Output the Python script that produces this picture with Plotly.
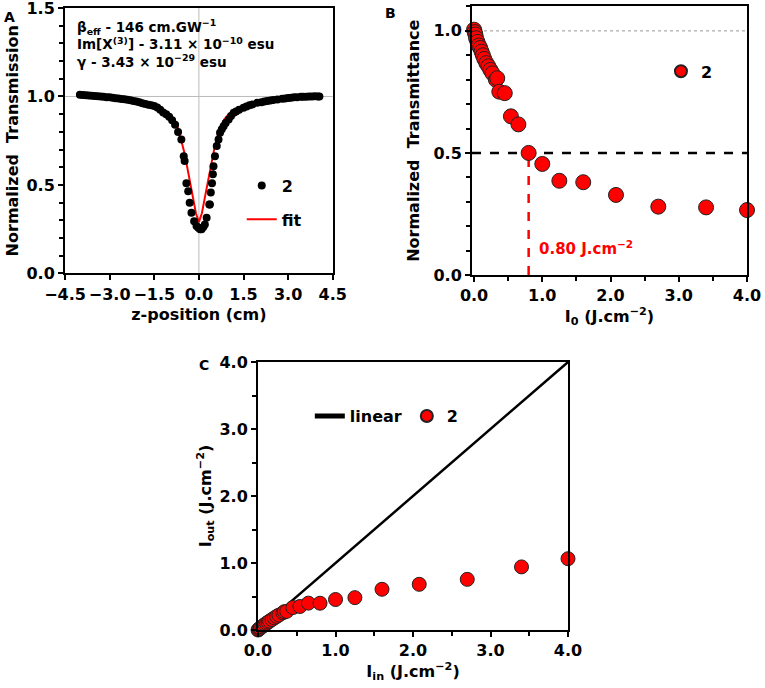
import plotly.graph_objects as go

# Panel A: open-aperture z-scan, sample 2
z_pos = [-4.00, -3.90, -3.80, -3.70, -3.60, -3.50, -3.40, -3.30, -3.20, -3.10,
         -3.00, -2.90, -2.80, -2.70, -2.60, -2.50, -2.40, -2.30, -2.20, -2.10,
         -2.00, -1.90, -1.80, -1.70, -1.60, -1.50, -1.40, -1.30, -1.20, -1.10,
         -1.00, -0.90, -0.80, -0.70, -0.59, -0.51, -0.48, -0.42, -0.36, -0.31,
         -0.25, -0.16, -0.08, -0.02, 0.04, 0.09, 0.15, 0.20, 0.26, 0.35,
         0.37, 0.40, 0.44, 0.47, 0.49, 0.54, 0.60, 0.66, 0.71, 0.77,
         0.83, 0.90, 1.00, 1.08, 1.17, 1.25, 1.35, 1.50, 1.60, 1.70,
         1.80, 1.96, 2.10, 2.20, 2.30, 2.40, 2.50, 2.64, 2.80, 2.90,
         3.00, 3.10, 3.20, 3.30, 3.43, 3.50, 3.60, 3.70, 3.80, 3.90, 4.00, 4.05]
trans_A = [1.010, 1.008, 1.007, 1.005, 1.004, 1.003, 1.001, 1.000, 0.998, 0.996,
           0.995, 0.993, 0.990, 0.988, 0.986, 0.984, 0.981, 0.978, 0.975, 0.971,
           0.967, 0.962, 0.957, 0.953, 0.950, 0.946, 0.938, 0.925, 0.910, 0.900,
           0.885, 0.865, 0.840, 0.800, 0.757, 0.663, 0.635, 0.510, 0.465, 0.400,
           0.343, 0.295, 0.268, 0.258, 0.250, 0.250, 0.262, 0.277, 0.315, 0.390,
           0.390, 0.457, 0.510, 0.560, 0.606, 0.663, 0.720, 0.757, 0.795, 0.815,
           0.832, 0.850, 0.870, 0.890, 0.908, 0.915, 0.925, 0.936, 0.943, 0.950,
           0.955, 0.964, 0.968, 0.972, 0.975, 0.977, 0.980, 0.983, 0.987, 0.989,
           0.991, 0.993, 0.995, 0.996, 0.998, 0.998, 0.999, 1.000, 1.000, 1.001, 1.000, 1.000]

fit_z = [-4.0, -3.5, -3.0, -2.5, -2.0, -1.75, -1.5, -1.25, -1.0, -0.85, -0.7, -0.6,
         -0.5, -0.42, -0.3, -0.19, -0.1, 0.0, 0.1, 0.19, 0.3, 0.42, 0.5, 0.6,
         0.7, 0.85, 1.0, 1.25, 1.5, 1.75, 2.0, 2.5, 3.0, 3.5, 4.0]
fit_T = [0.995, 0.993, 0.990, 0.983, 0.972, 0.963, 0.950, 0.930, 0.900, 0.870, 0.820, 0.760,
         0.690, 0.625, 0.520, 0.420, 0.340, 0.290, 0.340, 0.420, 0.520, 0.625, 0.690, 0.760,
         0.820, 0.870, 0.900, 0.930, 0.950, 0.963, 0.972, 0.983, 0.990, 0.993, 0.995]

# Panel B / C: fluence dependence
fluence = [0.00, 0.01, 0.02, 0.03, 0.05, 0.07, 0.09, 0.11, 0.13, 0.15, 0.18, 0.21,
           0.24, 0.27, 0.32, 0.34, 0.37, 0.45, 0.54, 0.65, 0.80, 1.00, 1.25, 1.60,
           2.08, 2.70, 3.40, 4.00]
norm_T = [1.005, 0.995, 0.985, 0.970, 0.955, 0.940, 0.930, 0.915, 0.900, 0.885, 0.868, 0.855,
          0.840, 0.826, 0.800, 0.806, 0.751, 0.745, 0.650, 0.617, 0.500, 0.455, 0.386, 0.380,
          0.328, 0.280, 0.277, 0.266]
i_out = [0.000, 0.010, 0.020, 0.029, 0.048, 0.066, 0.084, 0.101, 0.117, 0.133, 0.156, 0.180,
         0.202, 0.223, 0.256, 0.274, 0.278, 0.335, 0.351, 0.401, 0.400, 0.455, 0.483, 0.608,
         0.682, 0.756, 0.942, 1.064]
linear_x = [0.0, 4.0]
linear_y = [0.0, 4.0]

half_T = 0.5
threshold = 0.80

FONT = "DejaVu Sans, Arial, sans-serif"
tick_font = dict(family=FONT, size=16, color="black", weight="bold")
title_font = dict(family=FONT, size=16, color="black", weight="bold")

fig = go.Figure()

# fit drawn first so the data dots sit on top of it; legendrank keeps "2" listed first
fig.add_trace(go.Scatter(x=fit_z, y=fit_T, mode="lines", name="fit",
                         line=dict(color="red", width=2),
                         xaxis="x", yaxis="y", legend="legend", legendgroup="a2", legendrank=2))
fig.add_trace(go.Scatter(x=z_pos, y=trans_A, mode="markers", name="2",
                         marker=dict(color="black", size=8),
                         xaxis="x", yaxis="y", legend="legend", legendgroup="a1", legendrank=1))

fig.add_trace(go.Scatter(x=fluence, y=norm_T, mode="markers", name="2",
                         marker=dict(color="#ff0000", size=15, line=dict(color="#222", width=1)),
                         xaxis="x2", yaxis="y2", legend="legend2", cliponaxis=False))

fig.add_trace(go.Scatter(x=linear_x, y=linear_y, mode="lines", name="linear",
                         line=dict(color="black", width=2.5),
                         xaxis="x3", yaxis="y3", legend="legend3"))
fig.add_trace(go.Scatter(x=fluence, y=i_out, mode="markers", name="2",
                         marker=dict(color="#ff0000", size=14, line=dict(color="#222", width=1)),
                         xaxis="x3", yaxis="y3", legend="legend3", cliponaxis=False))

axis_common = dict(showline=True, linewidth=2, linecolor="black", mirror=True,
                   ticks="outside", ticklen=5, tickwidth=2, tickcolor="black",
                   showgrid=False, zeroline=False, tickfont=tick_font, tickformat=".1f",
                   automargin=False, ticklabeloverflow="allow")
minor_common = dict(ticks="outside", ticklen=4, tickwidth=2, tickcolor="black")

fig.update_layout(
    width=765, height=688,
    margin=dict(l=0, r=0, t=0, b=0),
    paper_bgcolor="white", plot_bgcolor="white",
    font=dict(family=FONT, color="black"),
    xaxis=dict(axis_common, domain=[0.085, 0.435], range=[-4.5, 4.5], dtick=1.5,
               title=dict(text="z-position (cm)", font=title_font, standoff=6), anchor="y"),
    yaxis=dict(axis_common, domain=[0.6025, 0.9884], range=[0, 1.5], dtick=0.5,
               minor=dict(minor_common, dtick=0.1),
               title=dict(text="Normalized  Transmission", font=title_font, standoff=4), anchor="x"),
    xaxis2=dict(axis_common, domain=[0.617, 0.9765], range=[-0.03, 4.0], dtick=1,
                minor=dict(minor_common, dtick=0.5),
                title=dict(text="I<sub>0</sub> (J.cm<sup>−2</sup>)", font=title_font, standoff=6), anchor="y2"),
    yaxis2=dict(axis_common, domain=[0.6003, 0.9906], range=[0, 1.1], dtick=0.5,
                minor=dict(minor_common, dtick=0.1),
                title=dict(text="Normalized  Transmittance", font=title_font, standoff=10), anchor="x2"),
    xaxis3=dict(axis_common, domain=[0.3373, 0.7425], range=[0, 4], dtick=1,
                minor=dict(minor_common, dtick=0.5),
                title=dict(text="I<sub>in</sub> (J.cm<sup>−2</sup>)", font=title_font, standoff=4), anchor="y3"),
    yaxis3=dict(axis_common, domain=[0.0843, 0.4738], range=[0, 4], dtick=1,
                minor=dict(minor_common, dtick=0.5),
                title=dict(text="I<sub>out</sub> (J.cm<sup>−2</sup>)", font=title_font, standoff=4), anchor="x3"),
    legend=dict(x=0.316, y=0.755, xanchor="left", yanchor="top", bgcolor="rgba(0,0,0,0)",
                font=title_font, tracegroupgap=10, traceorder="grouped"),
    legend2=dict(x=0.864, y=0.921, xanchor="left", yanchor="top", bgcolor="rgba(0,0,0,0)",
                 font=title_font, itemsizing="constant"),
    legend3=dict(x=0.405, y=0.42, xanchor="left", yanchor="top", orientation="h",
                 bgcolor="rgba(0,0,0,0)", font=title_font, itemsizing="constant"),
)

# reference lines
fig.add_hline(y=1.0, line=dict(color="#bbbbbb", width=1), xref="x", yref="y", layer="below")
fig.add_vline(x=0.0, line=dict(color="#bbbbbb", width=1), xref="x", yref="y", layer="below")
fig.add_shape(type="line", xref="x2 domain", yref="y2", x0=0, x1=1, y0=1.0, y1=1.0,
              line=dict(color="#999999", width=1, dash="dot"), layer="below")
fig.add_shape(type="line", xref="x2 domain", yref="y2", x0=0, x1=1, y0=half_T, y1=half_T,
              line=dict(color="black", width=2.5, dash="dash"), layer="below")
fig.add_shape(type="line", xref="x2", yref="y2", x0=threshold, x1=threshold, y0=0, y1=half_T,
              line=dict(color="red", width=2.5, dash="dash"), layer="below")

fig.add_annotation(x=threshold + 0.12, y=0.11, xref="x2", yref="y2", xanchor="left",
                   text="0.80 J.cm<sup>−2</sup>", showarrow=False,
                   font=dict(family=FONT, size=15, color="red", weight="bold"))

fig.add_annotation(x=0.098, y=0.978, xref="paper", yref="paper", xanchor="left", yanchor="top",
                   align="left", showarrow=False,
                   text="β<sub>eff</sub> - 146 cm.GW<sup>−1</sup><br>"
                        "Im[X<sup>(3)</sup>] - 3.11 × 10<sup>−10</sup> esu<br>"
                        "γ - 3.43 × 10<sup>−29</sup> esu",
                   font=dict(family=FONT, size=13.5, color="black", weight="bold"))

for label, px, py in [("A", 0.003, 0.99), ("B", 0.5, 0.995), ("C", 0.257, 0.484)]:
    fig.add_annotation(x=px, y=py, xref="paper", yref="paper", xanchor="left", yanchor="top",
                       text=label, showarrow=False,
                       font=dict(family=FONT, size=14, color="black", weight="bold"))

# drop the browser's default page margin so the figure sits at the window corner
fig.write_html("out.html", config={"displayModeBar": False},
               post_script="document.body.style.margin = '0px';")
